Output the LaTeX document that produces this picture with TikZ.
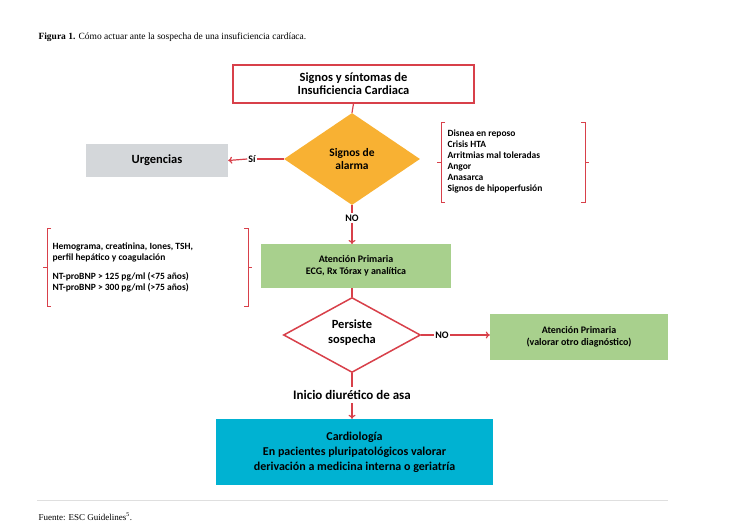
\documentclass[tikz,border=0pt]{standalone}
\usepackage{fontspec}
\setmainfont{Carlito}
\newfontfamily\capfont{Liberation Serif}
\usetikzlibrary{shapes.geometric,arrows.meta}
\definecolor{rd}{HTML}{D8404A}
\definecolor{org}{HTML}{F8B133}
\definecolor{grn}{HTML}{A8D08D}
\definecolor{gry}{HTML}{D4D7DA}
\definecolor{cya}{HTML}{00B2D2}
\begin{document}
\begin{tikzpicture}[x=1pt,y=-1pt,
  box/.style={draw=none,minimum width=#1,inner sep=1pt,align=center,font=\fontsize{10}{12}\selectfont},
  ln/.style={draw=rd,line width=1.2pt},
  arr/.style={ln,-{To[length=4pt,width=7pt]}},
  lbl/.style={font=\fontsize{10}{12}\selectfont\bfseries,inner sep=1pt}]
\useasboundingbox (0,0) rectangle (729,529);
\node[anchor=west,font=\capfont\fontsize{9.5}{11}\selectfont] (cap) at (35,37) {\textbf{Figura 1.} Cómo actuar ante la sospecha de una insuficiencia cardíaca.};
\node[draw=rd,line width=1.2pt,fill=white,minimum width=241,minimum height=38,align=center,font=\fontsize{12.5}{13}\selectfont\bfseries] (top) at (353.5,84) {Signos y síntomas de\\Insuficiencia Cardiaca};
\node[diamond,fill=org,minimum width=136,minimum height=92,inner sep=0,aspect=1.48,align=center,font=\fontsize{11.5}{13}\selectfont\bfseries] (alarm) at (352,159) {};
\node[align=center,font=\fontsize{11.5}{13}\selectfont\bfseries] (alarmt) at (352,159) {Signos de\\alarma};
\node[fill=gry,minimum width=142,minimum height=33,font=\fontsize{12.5}{14}\selectfont\bfseries] (urg) at (157,160.5) {Urgencias};
\node[lbl] (si) at (252,159) {Sí};
\draw[ln] (top.south) -- (alarm.north);
\draw[ln] (alarm.west) -- (si.east);
\draw[arr] (si.west) -- (urg.east);
\node[anchor=west,align=left,font=\fontsize{9.5}{11}\selectfont\bfseries] (list1) at (444,161) {Disnea en reposo\\Crisis HTA\\Arritmias mal toleradas\\Angor\\Anasarca\\Signos de hipoperfusión};
\coordinate (b1a) at (441,122); \coordinate (b1b) at (441,202);
\coordinate (b1c) at (585,122); \coordinate (b1d) at (585,202);
\draw[draw=rd,line width=0.8pt] ([xshift=4]b1a) -- (b1a) -- (b1b) -- ([xshift=4]b1b);
\draw[draw=rd,line width=0.8pt] (437,162) -- (441,162);
\draw[draw=rd,line width=0.8pt] ([xshift=-4]b1c) -- (b1c) -- (b1d) -- ([xshift=-4]b1d);
\draw[draw=rd,line width=0.8pt] (585,162) -- (589,162);
\node[lbl] (no1) at (352,218) {NO};
\node[fill=grn,minimum width=190,minimum height=44,align=center,font=\fontsize{10}{12}\selectfont\bfseries] (ap) at (356,266) {Atención Primaria\\ECG, Rx Tórax y analítica};
\draw[ln] (alarm.south) -- (no1.north);
\draw[arr] (no1.south) -- (352,244);
\node[anchor=west,align=left,font=\fontsize{9.5}{11}\selectfont\bfseries] (list2) at (49,267) {Hemograma, creatinina, Iones, TSH,\\perfil hepático y coagulación\\[8pt]NT-proBNP > 125 pg/ml (<75 años)\\NT-proBNP > 300 pg/ml (>75 años)};
\draw[draw=rd,line width=0.8pt] (51,228) -- (47,228) -- (47,306) -- (51,306);
\draw[draw=rd,line width=0.8pt] (43,267) -- (47,267);
\draw[draw=rd,line width=0.8pt] (244,228) -- (248,228) -- (248,306) -- (244,306);
\draw[draw=rd,line width=0.8pt] (248,267) -- (252,267);
\node[diamond,draw=rd,line width=1.5pt,fill=white,minimum width=137,minimum height=75,inner sep=0,aspect=1.8] (pers) at (352,335) {};
\node[align=center,font=\fontsize{12.5}{15}\selectfont\bfseries] (perst) at (352,333) {Persiste\\sospecha};
\draw[ln] (ap.south -| pers.north) -- (pers.north);
\node[lbl] (no2) at (442,335) {NO};
\node[fill=grn,minimum width=178,minimum height=46,align=center,font=\fontsize{10}{12}\selectfont\bfseries] (ap2) at (579,337) {Atención Primaria\\(valorar otro diagnóstico)};
\draw[ln] (pers.east) -- (no2.west);
\draw[arr] (no2.east) -- (ap2.west |- no2.east);
\node[font=\fontsize{13}{15}\selectfont\bfseries] (ini) at (352,395) {Inicio diurético de asa};
\draw[ln] (pers.south) -- (ini.north);
\node[fill=cya,minimum width=277,minimum height=66,align=center,font=\fontsize{12}{15}\selectfont\bfseries] (card) at (354.5,452) {Cardiología\\En pacientes pluripatológicos valorar\\derivación a medicina interna o geriatría};
\draw[arr] (ini.south) -- (ini.south |- card.north);
\draw[gray!25,line width=0.6pt] (37,500) -- (668,500);
\node[anchor=west,font=\capfont\fontsize{9}{11}\selectfont] (src) at (35,517) {Fuente: ESC Guidelines\textsuperscript{5}.};
\end{tikzpicture}
\end{document}
